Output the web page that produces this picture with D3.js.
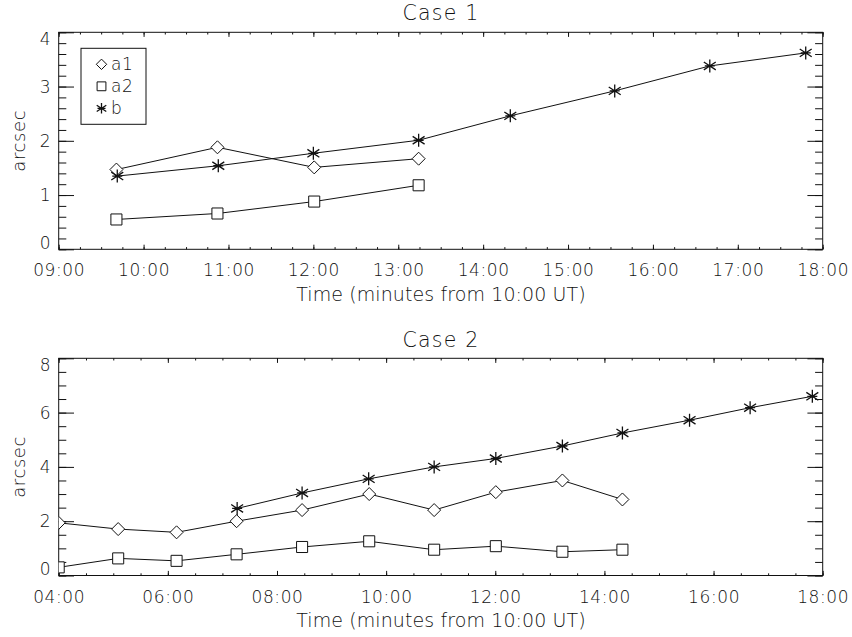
<!DOCTYPE html>
<html>
<head>
<meta charset="utf-8">
<script src="https://cdn.jsdelivr.net/npm/d3@7"></script>
<style>
  body { margin: 0; background: #fff; }
  text { font-family: "DejaVu Sans", sans-serif; font-weight: 200; fill: #111; }
</style>
</head>
<body>
<script>
// Case 1 (x = minutes, y = arcsec)
var c1TimeA = [9.68, 10.87, 12.01, 13.24];
var c1A1 = [1.47, 1.88, 1.51, 1.67];
var c1A2 = [0.55, 0.66, 0.88, 1.18];
var c1TimeB = [9.69, 10.88, 12.0, 13.24, 14.32, 15.55, 16.67, 17.8];
var c1B = [1.35, 1.54, 1.77, 2.01, 2.46, 2.92, 3.38, 3.62];

// Case 2
var c2TimeA = [4.0, 5.09, 6.16, 7.26, 8.46, 9.69, 10.88, 12.01, 13.23, 14.33];
var c2A1 = [1.94, 1.71, 1.59, 2.0, 2.41, 3.0, 2.41, 3.07, 3.5, 2.8];
var c2A2 = [0.3, 0.63, 0.54, 0.78, 1.05, 1.26, 0.95, 1.08, 0.875, 0.95];
var c2TimeB = [7.27, 8.46, 9.68, 10.88, 12.01, 13.23, 14.33, 15.56, 16.67, 17.81];
var c2B = [2.47, 3.04, 3.56, 4.0, 4.31, 4.77, 5.25, 5.72, 6.18, 6.6];

var c1XTicks = [9, 10, 11, 12, 13, 14, 15, 16, 17, 18];
var c1YTicks = [0, 1, 2, 3, 4];
var c2XTicks = [4, 6, 8, 10, 12, 14, 16, 18];
var c2YTicks = [0, 2, 4, 6, 8];

var legendNames = ["a1", "a2", "b"];
var xTitle = "Time (minutes from 10:00 UT)";
var yTitle = "arcsec";

var W = 852, H = 637;
var svg = d3.select("body").append("svg").attr("width", W).attr("height", H);

const fmtTime = d => d3.format("02d")(d) + ":00";

// symbol paths, r = half size
function symPath(kind, r) {
    if (kind === "diamond") return "M0," + -r + "L" + r + ",0L0," + r + "L" + -r + ",0Z";
    if (kind === "square") { var h = r * 0.85; return "M" + -h + "," + -h + "H" + h + "V" + h + "H" + -h + "Z"; }
    // asterisk
    var a = r * 0.92, b = r * 0.6, c = r * 0.77;
    return "M0," + -r + "V" + r + "M" + -a + "," + -b + "L" + a + "," + b +
        "M" + -a + "," + b + "L" + a + "," + -b + "M" + -c + ",0H" + c;
}

function panel(opt) {
    var left = 58.7, right = 822.7;
    var width = right - left, height = opt.bottom - opt.top;
    var g = svg.append("g").attr("transform", "translate(" + left + "," + opt.top + ")");

    var x = d3.scaleLinear().domain(opt.xDomain).range([0, width]);
    var y = d3.scaleLinear().domain(opt.yDomain).range([height, 0]);

    var clipId = "clip" + opt.id;
    g.append("clipPath").attr("id", clipId)
        .append("rect").attr("width", width).attr("height", height);

    // minor ticks
    var xMinor = d3.range(opt.xDomain[0], opt.xDomain[1] + 1e-9, opt.xMinor);
    var yMinor = d3.range(opt.yDomain[0], opt.yDomain[1] + 1e-9, opt.yMinor);
    g.append("g").attr("transform", "translate(0," + height + ")")
        .call(d3.axisBottom(x).tickValues(xMinor).tickSize(-2.2).tickFormat(""));
    g.append("g")
        .call(d3.axisTop(x).tickValues(xMinor).tickSize(-2.2).tickFormat(""));
    g.append("g")
        .call(d3.axisLeft(y).tickValues(yMinor).tickSize(-7.6).tickFormat(""));
    g.append("g").attr("transform", "translate(" + width + ",0)")
        .call(d3.axisRight(y).tickValues(yMinor).tickSize(-7.6).tickFormat(""));

    // major ticks with labels
    var xAx = g.append("g").attr("transform", "translate(0," + height + ")")
        .call(d3.axisBottom(x).tickValues(opt.xTicks).tickSize(-4.6).tickPadding(15).tickFormat(fmtTime));
    g.append("g").call(d3.axisTop(x).tickValues(opt.xTicks).tickSize(-4.6).tickFormat(""));
    var yAx = g.append("g")
        .call(d3.axisLeft(y).tickValues(opt.yTicks).tickSize(-15.3).tickPadding(8).tickFormat(d3.format("d")));
    g.append("g").attr("transform", "translate(" + width + ",0)")
        .call(d3.axisRight(y).tickValues(opt.yTicks).tickSize(-15.3).tickFormat(""));

    g.selectAll(".domain").remove();
    g.selectAll(".tick line").attr("stroke", "#111").attr("stroke-width", 1);
    xAx.selectAll("text").attr("font-size", 17).attr("letter-spacing", 0.6).attr("fill", "#111");
    yAx.selectAll("text").attr("font-size", 17).attr("fill", "#111")
        .attr("dy", (d, i) => i === 0 ? "-0.05em" : (i === opt.yTicks.length - 1 ? "0.7em" : "0.32em"));

    // frame
    g.append("rect").attr("width", width).attr("height", height)
        .attr("fill", "none").attr("stroke", "#111").attr("stroke-width", 1);

    // series
    var plot = g.append("g").attr("clip-path", "url(#" + clipId + ")");
    opt.series.forEach(s => {
        var pts = s.t.map((t, i) => [x(t), y(s.v[i])]);
        plot.append("path").attr("d", d3.line()(pts))
            .attr("fill", "none").attr("stroke", "#111").attr("stroke-width", 1);
        plot.selectAll(null).data(pts).enter().append("path")
            .attr("transform", d => "translate(" + d[0] + "," + d[1] + ")")
            .attr("d", symPath(s.sym, 6.5))
            .attr("fill", s.sym === "asterisk" ? "none" : "#fff")
            .attr("stroke", "#111").attr("stroke-width", s.sym === "asterisk" ? 1.3 : 1);
    });

    // titles
    svg.append("text").attr("x", 441).attr("y", opt.titleY)
        .attr("text-anchor", "middle").attr("font-size", 20.5).attr("letter-spacing", 1.2)
        .text(opt.title);
    svg.append("text").attr("x", 441).attr("y", opt.bottom + 51.7)
        .attr("text-anchor", "middle").attr("font-size", 19).attr("letter-spacing", 0.1)
        .text(xTitle);
    svg.append("text")
        .attr("transform", "translate(25," + (opt.top + height / 2) + ") rotate(-90)")
        .attr("text-anchor", "middle").attr("font-size", 18).attr("letter-spacing", 0.6)
        .text(yTitle);
    return g;
}

panel({
    id: 1, top: 32.3, bottom: 249.3, title: "Case 1", titleY: 20,
    xDomain: [9, 18], yDomain: [0, 4], xTicks: c1XTicks, yTicks: c1YTicks,
    xMinor: 0.25, yMinor: 0.2,
    series: [
        {t: c1TimeA, v: c1A1, sym: "diamond"},
        {t: c1TimeA, v: c1A2, sym: "square"},
        {t: c1TimeB, v: c1B, sym: "asterisk"}
    ]
});

panel({
    id: 2, top: 358.3, bottom: 575.5, title: "Case 2", titleY: 347,
    xDomain: [4, 18], yDomain: [0, 8], xTicks: c2XTicks, yTicks: c2YTicks,
    xMinor: 0.5, yMinor: 0.5,
    series: [
        {t: c2TimeA, v: c2A1, sym: "diamond"},
        {t: c2TimeA, v: c2A2, sym: "square"},
        {t: c2TimeB, v: c2B, sym: "asterisk"}
    ]
});

// legend (Case 1)
var lg = svg.append("g");
lg.append("rect").attr("x", 81).attr("y", 48.3).attr("width", 65).attr("height", 76)
    .attr("fill", "#fff").attr("stroke", "#111").attr("stroke-width", 1);
var legendSyms = ["diamond", "square", "asterisk"];
legendNames.forEach((n, i) => {
    var cy = 64.3 + i * 22;
    lg.append("path").attr("transform", "translate(101.5," + cy + ")")
        .attr("d", symPath(legendSyms[i], 5.2)).attr("fill", "none")
        .attr("stroke", "#111").attr("stroke-width", legendSyms[i] === "asterisk" ? 1.3 : 1);
    lg.append("text").attr("x", 111).attr("y", cy + 6).attr("font-size", 17)
        .attr("letter-spacing", 0.6).text(n);
});
</script>
</body>
</html>
